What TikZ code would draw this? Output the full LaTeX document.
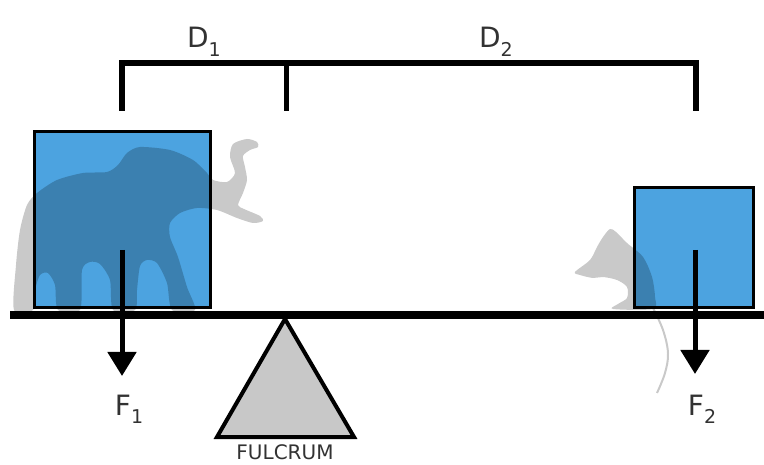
\documentclass[tikz,border=0pt]{standalone}
\usepackage{fontspec}
\setmainfont{DejaVu Sans}
\usetikzlibrary{arrows.meta}
\definecolor{loadblue}{RGB}{76,163,224}
\definecolor{labelgray}{RGB}{50,50,50}
\definecolor{pivotgray}{RGB}{200,200,200}
% lowered index for D and F
\newcommand\lowsub[1]{\raisebox{-.32em}{\fontsize{19}{19}\selectfont #1}}

\begin{document}
\begin{tikzpicture}[x=1pt,y=-1pt,
  load/.style={draw, line width=3pt, fill=loadblue, inner sep=0pt},
  force/.style={line width=5pt, -{Triangle[width=28pt,length=24pt]}},
  lbl/.style={text=labelgray, font=\fontsize{28}{28}\selectfont, inner sep=0pt, anchor=base},
  shade/.style={fill=black, fill opacity=.21, draw=none}]
\useasboundingbox (0,0) rectangle (764,465);

% the two loads
\node[load, minimum width=176pt, minimum height=176pt] (bigload) at (122.5,219.5){};
\node[load, minimum width=119pt, minimum height=120pt] (smallload) at (694,247.5){};

% elephant
\fill[shade] plot[smooth cycle, tension=.45] coordinates {
  (14,310) (16,265) (20,230) (27,205) (37,193) (57,180) (83,173) (107,172)
  (118,165) (127,153) (140,147) (170,150) (193,160) (207,173) (213,180)
  (227,182) (235,173) (230,157) (233,144) (247,139) (257,142) (258,147)
  (250,150) (243,156) (245,167) (247,180) (243,193) (238,205) (244,209)
  (260,216) (263,221) (253,223) (237,218) (217,210) (197,208) (180,213)
  (170,223) (170,237) (178,257) (187,287) (195,310) (172,310) (167,283)
  (157,263) (147,260) (140,266) (137,290) (135,310) (113,310) (110,280)
  (100,264) (90,262) (82,270) (80,310) (58,310) (55,285) (48,273) (40,275)
  (35,290) (33,310)};

% mouse
\fill[shade] plot[smooth cycle, tension=.5] coordinates {
  (575,272) (590,260) (597,247) (603,237) (610,229) (616,232) (627,243)
  (643,257) (652,277) (655,297) (653,309) (613,309) (618,304) (627,298)
  (627,287) (617,280) (603,277) (593,278) (580,275)};
\draw[black, opacity=.21, line width=2pt] plot[smooth, tension=.6] coordinates {
  (653,308) (663,330) (668,353) (665,373) (657,393)};

% fulcrum
\node[inner sep=0pt] (pivot) at (285,319){};
\coordinate (baseL) at (217,437);
\coordinate (baseR) at (354,437);
\filldraw[fill=pivotgray, line width=4pt, line join=miter] (pivot.center) -- (baseR) -- (baseL) -- cycle;
\node[text=labelgray, font=\fontsize{20}{20}\selectfont, inner sep=0pt, anchor=base] (fulcrum) at (285,459){FULCRUM};

% beam
\coordinate (beamL) at (10,315);
\coordinate (beamR) at (764,315);
\draw[line width=8pt] (beamL) -- (beamR);

% forces
\coordinate (f1top) at (122,250);
\coordinate (f1end) at (122,376);
\coordinate (f2top) at (695,250);
\coordinate (f2end) at (695,374);
\draw[force] (f1top) -- (f1end);
\draw[force] (f2top) -- (f2end);
\node[lbl] (F1) at (129,415){F\lowsub{1}};
\node[lbl] (F2) at (702,415){F\lowsub{2}};

% distance bracket
\coordinate (t1) at (122,111);
\coordinate (t2) at (286,111);
\coordinate (t3) at (696,111);
\draw[line width=6pt, line join=miter] (t1) -- ++(0,-48) -| (t3);
\draw[line width=5pt] (t2) -- ++(0,-48);
\node[lbl] (D1) at (204,48){D\lowsub{1}};
\node[lbl] (D2) at (496,48){D\lowsub{2}};
\end{tikzpicture}
\end{document}
